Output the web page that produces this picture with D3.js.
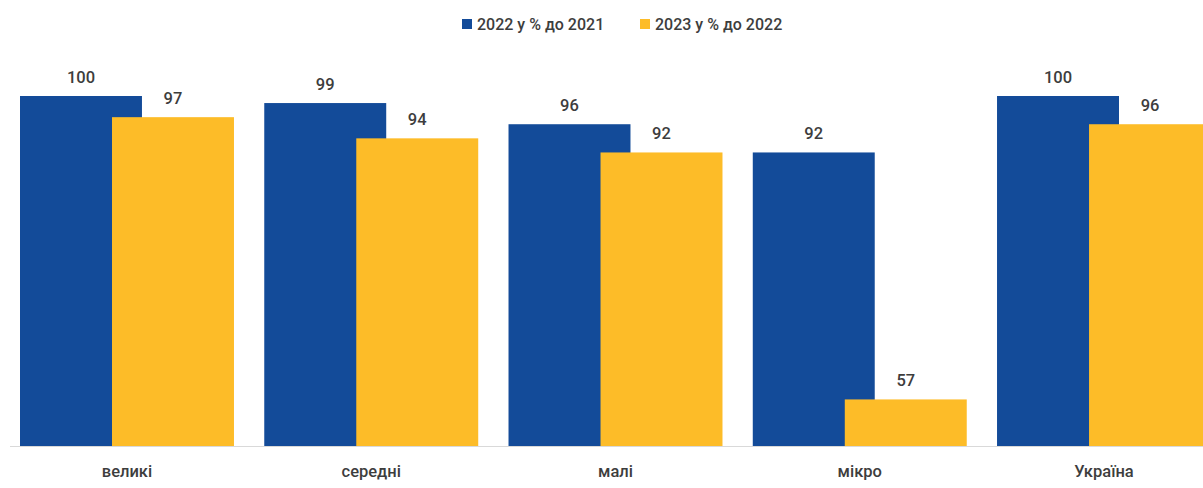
<!DOCTYPE html>
<html>
<head>
<meta charset="utf-8">
<script src="https://cdn.jsdelivr.net/npm/d3@7"></script>
<style>
  html, body { margin: 0; padding: 0; background: #fff; }
  svg { display: block; font-family: Roboto, "Noto Sans", sans-serif; }
</style>
</head>
<body>
<svg id="chart" width="1203" height="488"></svg>
<script>
// Enterprise size groups
const categories = ["великі", "середні", "малі", "мікро", "Україна"];
// Series: index values, %
const seriesNames = ["2022 у % до 2021", "2023 у % до 2022"];
const values2022 = [100, 99, 96, 92, 100];
const values2023 = [97, 94, 92, 57, 96];
const seriesColors = ["#134B99", "#FDBC28"];

const svg = d3.select("#chart");
const W = 1203, H = 488;
const textColor = "#3d3d3d";

const x = d3.scaleBand()
  .domain(categories)
  .range([20, 1211])
  .paddingInner(0.124)
  .paddingOuter(0);

const yMin = 50.4;
const y = d3.scaleLinear()
  .domain([yMin, 100])
  .range([446, 96]);

const bw = x.bandwidth();
const barW = bw * 0.57;
const offsets = [0, bw - barW];
const seriesValues = [values2022, values2023];

// baseline
svg.append("line")
  .attr("x1", 10).attr("x2", W)
  .attr("y1", y(yMin) + 0.5).attr("y2", y(yMin) + 0.5)
  .attr("stroke", "#d9d9d9").attr("stroke-width", 1);

// bars and value labels, second series drawn on top
seriesValues.forEach((vals, si) => {
  const rows = categories.map((c, i) => ({ c, v: vals[i] }));
  const g = svg.append("g");
  g.selectAll("rect")
    .data(rows)
    .join("rect")
    .attr("x", d => x(d.c) + offsets[si])
    .attr("y", d => y(d.v))
    .attr("width", barW)
    .attr("height", d => y(yMin) - y(d.v))
    .attr("fill", seriesColors[si]);

  g.selectAll("text")
    .data(rows)
    .join("text")
    .attr("x", d => x(d.c) + offsets[si] + barW / 2)
    .attr("y", d => y(d.v) - 13)
    .attr("text-anchor", "middle")
    .attr("font-size", 16.5)
    .attr("font-weight", 500)
    .attr("fill", textColor)
    .text(d => d3.format("d")(d.v));
});

// category labels
svg.append("g").selectAll("text")
  .data(categories)
  .join("text")
  .attr("x", d => x(d) + bw / 2)
  .attr("y", 477)
  .attr("text-anchor", "middle")
  .attr("font-size", 16.5)
  .attr("font-weight", 500)
  .attr("fill", textColor)
  .text(d => d);

// legend
const legendX = [462, 640];
const legend = svg.append("g");
seriesNames.forEach((name, i) => {
  legend.append("rect")
    .attr("x", legendX[i]).attr("y", 19)
    .attr("width", 10).attr("height", 10)
    .attr("fill", seriesColors[i]);
  legend.append("text")
    .attr("x", legendX[i] + 15).attr("y", 29.5)
    .attr("font-size", 16)
    .attr("font-weight", 500)
    .attr("fill", textColor)
    .text(name);
});
</script>
</body>
</html>
